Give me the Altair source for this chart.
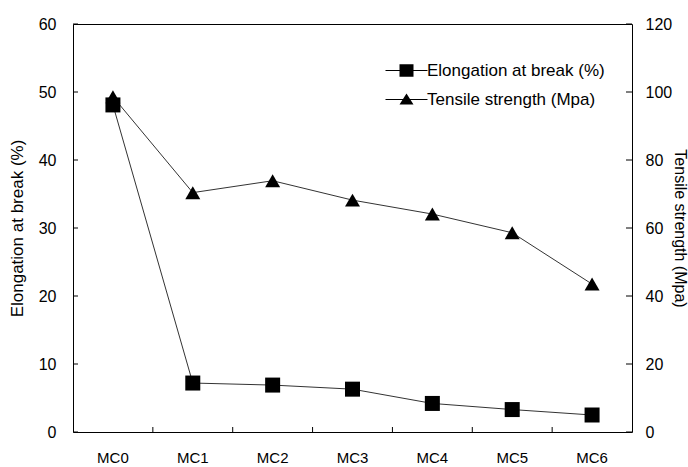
import altair as alt
import pandas as pd

# ---- data ----
categories = ["MC0", "MC1", "MC2", "MC3", "MC4", "MC5", "MC6"]
elongation = [48.1, 7.2, 6.9, 6.3, 4.2, 3.3, 2.5]        # Elongation at break (%)
tensile = [98.6, 70.4, 73.9, 68.2, 64.1, 58.6, 43.5]      # Tensile strength (Mpa)
left_ticks = [0, 10, 20, 30, 40, 50, 60]
right_ticks = [0, 20, 40, 60, 80, 100, 120]
series_names = ["Elongation at break (%)", "Tensile strength (Mpa)"]

W, H = 559, 408
FONT = "Liberation Sans"

df = pd.DataFrame({"cat": categories, "elong": elongation, "tens": tensile})
lt = pd.DataFrame({"v": left_ticks})
rt = pd.DataFrame({"v": right_ticks})
bt = pd.DataFrame({"cat": categories[1:]})
leg = pd.DataFrame({"series": series_names})

xscale = alt.Scale(domain=categories, paddingInner=0, paddingOuter=0)
ly = alt.Scale(domain=[0, 60], nice=False)
ry = alt.Scale(domain=[0, 120], nice=False)

x_axis = alt.Axis(title=None, labelAngle=0, ticks=False, domain=False,
                  labelPadding=18, labelFontSize=15)
left_axis = alt.Axis(values=left_ticks, ticks=False, domain=False,
                     labelPadding=17, labelFontSize=16,
                     title="Elongation at break (%)", titleFontSize=17,
                     titleFontWeight="normal", titlePadding=12)
right_axis = alt.Axis(orient="right", values=right_ticks, ticks=False, domain=False,
                      labelPadding=13, labelFontSize=16,
                      title="Tensile strength (Mpa)", titleFontSize=16,
                      titleFontWeight="normal", titlePadding=0)

LINE_COLOR = "#333333"


def xenc(**kw):
    return alt.X("cat:N", scale=xscale, axis=x_axis, **kw)


line_e = alt.Chart(df).mark_line(color=LINE_COLOR, strokeWidth=1).encode(
    x=xenc(),
    y=alt.Y("elong:Q", scale=ly, axis=left_axis),
)
line_t = alt.Chart(df).mark_line(color=LINE_COLOR, strokeWidth=1).encode(
    x=xenc(),
    y=alt.Y("tens:Q", scale=ry, axis=right_axis),
)
pts_e = alt.Chart(df).mark_point(shape="square", filled=True, color="black",
                                 size=225, opacity=1).encode(
    x=xenc(),
    y=alt.Y("elong:Q", scale=ly, axis=None),
)
pts_t = alt.Chart(df).mark_point(shape="triangle-up", filled=True, color="black",
                                 size=225, opacity=1).encode(
    x=xenc(),
    y=alt.Y("tens:Q", scale=ry, axis=None),
)
ticks_l = alt.Chart(lt).mark_rule(color="black", strokeWidth=1).encode(
    y=alt.Y("v:Q", scale=ly, axis=None),
    x=alt.value(0), x2=alt.value(5),
)
ticks_r = alt.Chart(rt).mark_rule(color="black", strokeWidth=1).encode(
    y=alt.Y("v:Q", scale=ry, axis=None),
    x=alt.value(W), x2=alt.value(W - 6),
)
ticks_b = alt.Chart(bt).mark_rule(color="black", strokeWidth=1).encode(
    x=xenc(bandPosition=0),
    y=alt.value(H), y2=alt.value(H - 5),
)

path_sq = "M-3,-0.07H3V0.07H-3ZM-1,-0.9H1V0.9H-1Z"
path_tri = "M-3,-0.07H3V0.07H-3ZM0,-0.85L1,0.7L-1,0.7Z"
legend_layer = alt.Chart(leg).mark_point(filled=True, color="black",
                                         size=196, opacity=1).encode(
    shape=alt.Shape("series:N",
                    scale=alt.Scale(domain=series_names, range=[path_sq, path_tri]),
                    legend=alt.Legend(title=None, orient="none", legendX=325, legendY=38,
                                      labelFontSize=17, labelColor="black", labelLimit=0,
                                      symbolSize=196, symbolFillColor="black",
                                      labelOffset=12, rowPadding=10, padding=0,
                                      symbolOffset=0)),
).transform_filter("false")

chart = alt.layer(
    line_e, line_t, pts_e, pts_t, ticks_l, ticks_r, ticks_b, legend_layer
).resolve_scale(
    y="independent"
).properties(
    width=W, height=H,
    padding={"left": 73, "top": 24, "right": 56, "bottom": 35},
    autosize=alt.AutoSizeParams(type="none"),
    background="white",
).configure_view(
    stroke="black", strokeWidth=1
).configure_axis(
    labelFont=FONT, titleFont=FONT, labelColor="black", titleColor="black", grid=False
).configure_legend(
    labelFont=FONT
)

chart.save("out.html", embed_options={"renderer": "svg", "actions": False})
